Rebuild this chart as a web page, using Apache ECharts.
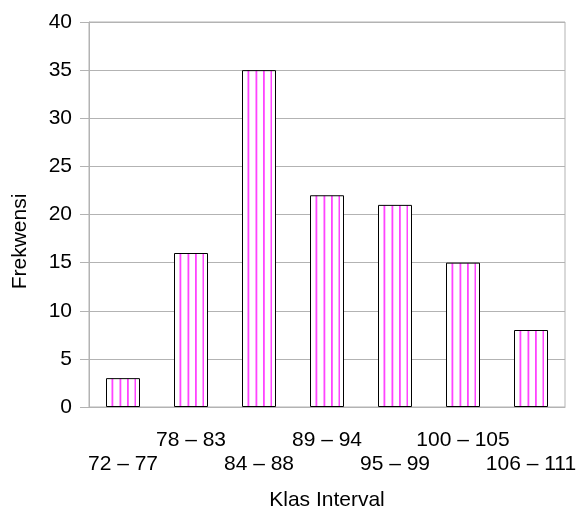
<!DOCTYPE html>
<html><head><meta charset="utf-8">
<script src="https://cdn.jsdelivr.net/npm/echarts@6/dist/echarts.min.js"></script>
<style>html,body{margin:0;padding:0;background:#fff}#c{width:578px;height:509px}</style>
</head><body><div id="c"></div>
<script>
var categories = ['72 – 77','78 – 83','84 – 88','89 – 94','95 – 99','100 – 105','106 – 111'];
var frekwensi = [3, 16, 35, 22, 21, 15, 8];
var yTitle = 'Frekwensi';
var xTitle = 'Klas Interval';

var pc = document.createElement('canvas');
pc.width = 68; pc.height = 8;
var ctx = pc.getContext('2d');
ctx.fillStyle = '#ffffff'; ctx.fillRect(0,0,68,8);
ctx.fillStyle = '#ff44ff';
[43.5, 51.5, 59, 66.5].forEach(function(x){ ctx.fillRect(x,0,1.8,8); });

var chart = echarts.init(document.getElementById('c'), null, {renderer:'canvas'});
var font = 'Liberation Sans, Arial';
chart.setOption({
  animation: false,
  grid: {left: 89, right: 13, top: 22, bottom: 102, show: true, borderColor: '#b3b3b3', borderWidth: 1,
    containLabel: false, outerBoundsMode: 'none'},
  xAxis: {
    type: 'category', data: categories,
    axisLine: {lineStyle: {color: '#b3b3b3'}},
    axisTick: {alignWithLabel: true, length: 11, lineStyle: {color: '#b3b3b3'}},
    axisLabel: {interval: 0, color: '#000', fontFamily: font, fontSize: 21, margin: 21, lineHeight: 24,
      formatter: function(v, i){ return i % 2 === 0 ? '\n' + v : v; }},
    name: xTitle, nameLocation: 'middle', nameGap: 83,
    nameTextStyle: {color: '#000', fontFamily: font, fontSize: 21}
  },
  yAxis: {
    type: 'value', min: 0, max: 40, interval: 5,
    axisLine: {show: true, lineStyle: {color: '#b3b3b3'}},
    axisTick: {show: true, length: 9, lineStyle: {color: '#b3b3b3'}},
    splitLine: {lineStyle: {color: '#b3b3b3'}},
    axisLabel: {color: '#000', fontFamily: font, fontSize: 21, margin: 17},
    name: yTitle, nameLocation: 'middle', nameGap: 58,
    nameTextStyle: {color: '#000', fontFamily: font, fontSize: 21, padding: [0, 54, 0, 0]}
  },
  series: [{
    type: 'bar', data: frekwensi, barWidth: 34,
    itemStyle: {color: {image: pc, repeat: 'repeat'}, borderColor: '#000', borderWidth: 1}
  }]
});
</script></body></html>
